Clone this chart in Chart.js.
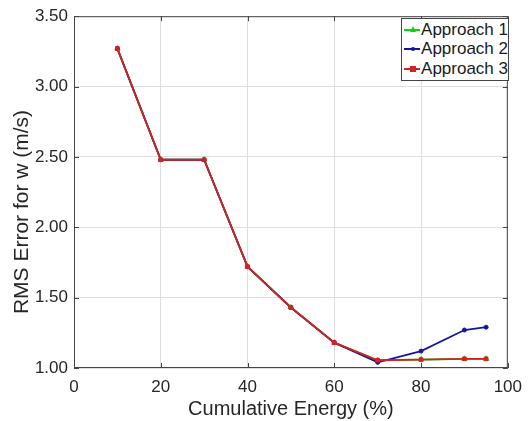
<!DOCTYPE html>
<html>
<head>
<meta charset="utf-8">
<script src="https://cdn.jsdelivr.net/npm/chart.js@4"></script>
<style>
  body { margin: 0; background: #fff; }
  #wrap { position: relative; width: 531px; height: 421px; }
  #legend {
    position: absolute; left: 401px; top: 18px; width: 106px; height: 60px;
    border: 1px solid #444; background: #fff;
    font-family: "Liberation Sans", Arial, sans-serif; font-size: 17px; color: #1a1a1a;
    padding-top: 1px;
  }
  #legend .row { display: flex; align-items: center; height: 19.5px; white-space: nowrap; }
  #legend .ln { position: relative; width: 18px; height: 2px; margin: 0 1px 0 2px; }
  #legend .mk { position: absolute; left: 6px; top: -2px; width: 6px; height: 6px; }
</style>
</head>
<body>
<div id="wrap">
  <canvas id="chart-utama" width="531" height="421"></canvas>
  <div id="legend"></div>
</div>
<script>
const energi = [10, 20, 30, 40, 50, 60, 70, 80, 90, 95];
const approach1 = [3.27, 2.48, 2.48, 1.72, 1.43, 1.18, 1.055, 1.06, 1.065, 1.065];
const approach2 = [3.27, 2.48, 2.48, 1.72, 1.43, 1.18, 1.04, 1.12, 1.27, 1.29];
const approach3 = [3.27, 2.48, 2.48, 1.72, 1.43, 1.18, 1.055, 1.06, 1.065, 1.065];
const xTicks = [0, 20, 40, 60, 80, 100];
const yTicks = [1.0, 1.5, 2.0, 2.5, 3.0, 3.5];

const font = "'Liberation Sans', Arial, sans-serif";
const teks = "#262626";

function toPoints(vals) {
    return vals.map((v, i) => ({ x: energi[i], y: v }));
}

const seri = [
    { label: "Approach 1", data: approach1, color: "#10d010", style: "triangle", r: 3, order: 2 },
    { label: "Approach 2", data: approach2, color: "#1515a0", style: "circle", r: 2, order: 1 },
    { label: "Approach 3", data: approach3, color: "#d42222", style: "rect", r: 2.6, order: 0 },
];

// kotak + tick ke dalam seperti matlab
const boxPlugin = {
    id: "boxPlugin",
    afterDatasetsDraw(chart) {
        const { ctx, chartArea: a, scales } = chart;
        ctx.save();
        ctx.strokeStyle = "#444";
        ctx.lineWidth = 1;
        ctx.strokeRect(a.left + 0.5, a.top + 0.5, a.right - a.left - 1, a.bottom - a.top - 1);
        ctx.beginPath();
        xTicks.forEach((t) => {
            const px = Math.round(scales.x.getPixelForValue(t)) + 0.5;
            ctx.moveTo(px, a.bottom); ctx.lineTo(px, a.bottom - 5);
            ctx.moveTo(px, a.top); ctx.lineTo(px, a.top + 5);
        });
        yTicks.forEach((t) => {
            const py = Math.round(scales.y.getPixelForValue(t)) + 0.5;
            ctx.moveTo(a.left, py); ctx.lineTo(a.left + 5, py);
            ctx.moveTo(a.right, py); ctx.lineTo(a.right - 5, py);
        });
        ctx.stroke();
        ctx.restore();
    },
    afterDraw(chart) {
        // judul sumbu y
        const ctx = chart.ctx;
        ctx.save();
        ctx.translate(22, 212);
        ctx.rotate(-Math.PI / 2);
        ctx.fillStyle = teks;
        ctx.font = "21px " + font;
        ctx.textAlign = "center";
        ctx.textBaseline = "middle";
        ctx.fillText("RMS Error for w (m/s)", 0, 0);
        ctx.restore();
    },
};

const ctx = document.getElementById("chart-utama");
const mychart = new Chart(ctx, {
    type: "line",
    data: {
        datasets: seri.map((s) => ({
            label: s.label,
            data: toPoints(s.data),
            borderColor: s.color,
            backgroundColor: s.color,
            borderWidth: 1.8,
            pointStyle: s.style,
            pointRadius: s.r,
            pointBorderWidth: 1,
            tension: 0,
            order: s.order,
        })),
    },
    options: {
        responsive: false,
        animation: false,
        layout: { padding: { top: 15, right: 22, left: 0, bottom: 0 } },
        plugins: { legend: { display: false }, tooltip: { enabled: false } },
        scales: {
            x: {
                type: "linear",
                min: 0,
                max: 100,
                afterBuildTicks: (sc) => { sc.ticks = xTicks.map((v) => ({ value: v })); },
                afterFit: (sc) => { sc.height = 53; },
                grid: { color: "#dedede", drawTicks: false },
                border: { display: false },
                ticks: { color: teks, font: { family: font, size: 17 }, padding: 9, maxRotation: 0 },
                title: { display: true, text: "Cumulative Energy (%)", color: teks, font: { family: font, size: 20 }, padding: { top: 0, bottom: 0 } },
            },
            y: {
                min: 1,
                max: 3.5,
                afterBuildTicks: (sc) => { sc.ticks = yTicks.map((v) => ({ value: v })); },
                afterFit: (sc) => { sc.width = 74; },
                grid: { color: "#dedede", drawTicks: false },
                border: { display: false },
                ticks: { color: teks, font: { family: font, size: 17 }, padding: 6, callback: (v) => Number(v).toFixed(2) },
            },
        },
    },
    plugins: [boxPlugin],
});

// legenda html
const leg = document.getElementById("legend");
seri.forEach((s) => {
    const row = document.createElement("div");
    row.className = "row";
    const ln = document.createElement("span");
    ln.className = "ln";
    ln.style.background = s.color;
    const mk = document.createElement("span");
    mk.className = "mk";
    mk.style.background = s.color;
    if (s.style === "circle") { mk.style.borderRadius = "50%"; mk.style.width = "4px"; mk.style.height = "4px"; mk.style.left = "7px"; mk.style.top = "-1px"; }
    if (s.style === "triangle") { mk.style.background = "none"; mk.style.width = "0"; mk.style.height = "0"; mk.style.borderLeft = "3px solid transparent"; mk.style.borderRight = "3px solid transparent"; mk.style.borderBottom = "6px solid " + s.color; mk.style.top = "-3px"; }
    ln.appendChild(mk);
    row.appendChild(ln);
    row.appendChild(document.createTextNode(s.label));
    leg.appendChild(row);
});
</script>
</body>
</html>
